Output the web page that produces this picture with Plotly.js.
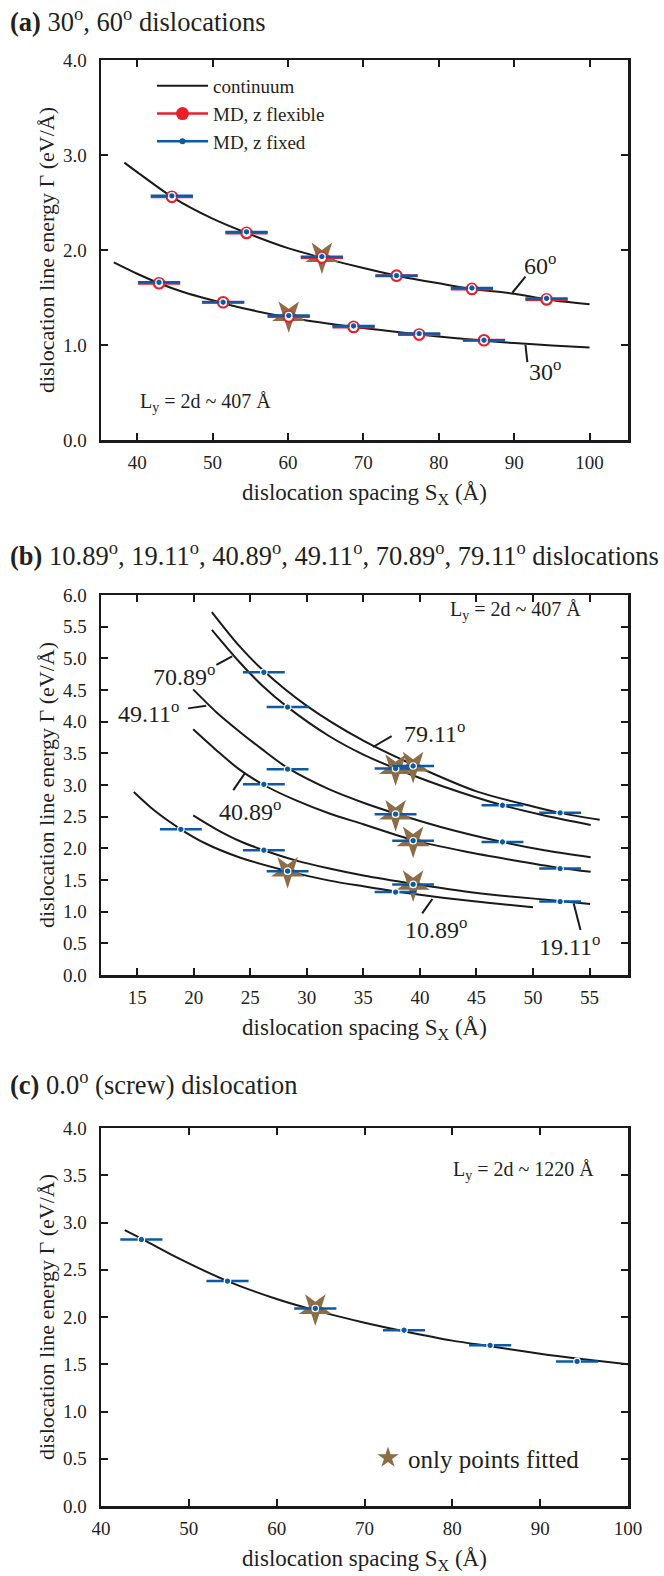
<!DOCTYPE html>
<html>
<head>
<meta charset="utf-8">
<script src="https://cdn.plot.ly/plotly-3.0.1.min.js"></script>
<style>html,body{margin:0;padding:0;background:#fff;}#plot{width:664px;height:1576px;}</style>
</head>
<body>
<div id="plot"></div>
<script>
// ---------- Panel (a): 30°, 60° dislocations ----------
const a60_x = [44.6, 54.5, 64.5, 74.4, 84.4, 94.3];
const a60_fixed = [2.57, 2.19, 1.93, 1.73, 1.60, 1.49];
const a60_flex = [2.56, 2.18, 1.92, 1.73, 1.59, 1.48];
const a60_err = [2.8, 2.8, 2.8, 2.8, 2.8, 2.8];
const a30_x = [42.9, 51.4, 60.1, 68.7, 77.4, 86.0];
const a30_fixed = [1.66, 1.45, 1.31, 1.20, 1.12, 1.05];
const a30_flex = [1.65, 1.45, 1.30, 1.19, 1.11, 1.05];
const a30_err = [2.8, 2.8, 2.8, 2.8, 2.8, 2.8];
const a_star_x = [64.5, 60.1];
const a_star_y = [1.93, 1.31];
const a60_curve_x = [38.3, 40, 44.6, 50, 54.5, 60, 64.5, 70, 74.4, 80, 84.4, 90, 94.3, 100];
const a60_curve_y = [2.92, 2.82, 2.56, 2.33, 2.18, 2.02, 1.92, 1.81, 1.73, 1.65, 1.59, 1.54, 1.48, 1.43];
const a30_curve_x = [36.9, 40, 42.9, 46, 51.4, 55, 60.1, 65, 68.7, 72, 77.4, 82, 86, 90, 95, 100];
const a30_curve_y = [1.87, 1.75, 1.65, 1.56, 1.44, 1.37, 1.29, 1.23, 1.19, 1.16, 1.11, 1.075, 1.045, 1.02, 0.995, 0.975];
const a_xticks = [40, 50, 60, 70, 80, 90, 100];
const a_yticks = [0, 1, 2, 3, 4];

// ---------- Panel (b): mixed dislocations ----------
const b10_x = [18.86, 28.3, 37.85];
const b10_y = [2.30, 1.64, 1.31];
const b19_x = [26.2, 39.4, 52.4];
const b19_y = [1.97, 1.43, 1.16];
const b40_x = [26.2, 39.4, 52.4];
const b40_y = [3.01, 2.12, 1.68];
const b49_x = [28.3, 37.85, 47.3];
const b49_y = [3.25, 2.54, 2.10];
const b70_x = [28.3, 37.85, 47.3];
const b70_y = [4.23, 3.26, 2.68];
const b79_x = [26.2, 39.4, 52.4];
const b79_y = [4.78, 3.30, 2.56];
const b_err = [1.85, 1.85, 1.85];
const b_star_x = [28.3, 39.4, 37.85, 39.4, 37.85, 39.4];
const b_star_y = [1.64, 1.43, 2.54, 2.12, 3.26, 3.30];
const b10_curve_x = [14.7, 16.5, 18.86, 21, 24, 28.3, 32, 35, 37.85, 42, 46, 50];
const b10_curve_y = [2.89, 2.60, 2.30, 2.08, 1.86, 1.64, 1.49, 1.40, 1.32, 1.22, 1.14, 1.07];
const b19_curve_x = [19.95, 22, 24, 26.2, 29, 32, 35, 39.4, 44, 48, 52.4, 55.05];
const b19_curve_y = [2.52, 2.30, 2.12, 1.97, 1.81, 1.68, 1.57, 1.44, 1.32, 1.24, 1.17, 1.12];
const b40_curve_x = [19.95, 22, 24, 26.2, 29, 32, 35, 39.4, 44, 48, 52.4, 55.1];
const b40_curve_y = [3.88, 3.55, 3.25, 3.00, 2.76, 2.55, 2.38, 2.13, 1.95, 1.82, 1.69, 1.63];
const b49_curve_x = [19.95, 22, 24, 26, 28.3, 32, 35, 37.85, 42, 47.3, 51, 55.1];
const b49_curve_y = [4.51, 4.15, 3.85, 3.57, 3.27, 2.93, 2.72, 2.55, 2.33, 2.10, 1.97, 1.86];
const b70_curve_x = [21.6, 24, 26, 28.3, 32, 35, 37.85, 42, 47.3, 51, 55.1];
const b70_curve_y = [5.45, 4.95, 4.58, 4.23, 3.77, 3.48, 3.26, 2.98, 2.68, 2.52, 2.37];
const b79_curve_x = [21.6, 24, 26.2, 30, 35, 39.4, 45, 50, 52.4, 55.9];
const b79_curve_y = [5.73, 5.20, 4.80, 4.25, 3.70, 3.32, 2.90, 2.66, 2.56, 2.45];
const b_xticks = [15, 20, 25, 30, 35, 40, 45, 50, 55];
const b_yticks = [0, 0.5, 1, 1.5, 2, 2.5, 3, 3.5, 4, 4.5, 5, 5.5, 6];

// ---------- Panel (c): screw dislocation ----------
const c_x = [44.6, 54.4, 64.4, 74.5, 84.3, 94.2];
const c_y = [2.82, 2.38, 2.09, 1.86, 1.70, 1.53];
const c_err = [2.4, 2.4, 2.4, 2.4, 2.4, 2.4];
const c_star_x = [64.4];
const c_star_y = [2.09];
const c_curve_x = [42.7, 44.6, 48, 54.4, 60, 64.4, 70, 74.5, 80, 84.3, 90, 94.2, 100];
const c_curve_y = [2.92, 2.83, 2.66, 2.38, 2.19, 2.07, 1.94, 1.85, 1.75, 1.69, 1.61, 1.56, 1.50];
const c_xticks = [40, 50, 60, 70, 80, 90, 100];
const c_yticks = [0, 0.5, 1, 1.5, 2, 2.5, 3, 3.5, 4];

// ---------- styling ----------
const FONT = 'Liberation Serif, Times New Roman, serif';
const TXT = '#231f20';
const BLUE = '#0b5aa8';
const RED = '#e8202a';
const BROWN = '#8c6d46';
const W = 664, H = 1576;

function curve(x, y, xa, ya) {
  return {x: x, y: y, xaxis: xa, yaxis: ya, mode: 'lines', type: 'scatter',
    line: {color: '#1a1a1a', width: 2, shape: 'spline', smoothing: 0.8},
    showlegend: false, hoverinfo: 'skip'};
}
function stars(x, y, xa, ya) {
  return {x: x, y: y, xaxis: xa, yaxis: ya, mode: 'markers', type: 'scatter',
    marker: {symbol: 'star', angle: 180, size: 25, color: BROWN, line: {width: 0}},
    showlegend: false, hoverinfo: 'skip'};
}
function fixedPts(x, y, err, xa, ya) {
  return {x: x, y: y, xaxis: xa, yaxis: ya, mode: 'markers', type: 'scatter',
    error_x: {type: 'data', array: err, color: BLUE, thickness: 2.5, width: 0},
    marker: {symbol: 'circle', size: 6.5, color: BLUE, line: {color: '#ffffff', width: 1.2}},
    showlegend: false, hoverinfo: 'skip'};
}
function flexPts(x, y, err, xa, ya) {
  return {x: x, y: y, xaxis: xa, yaxis: ya, mode: 'markers', type: 'scatter',
    error_x: {type: 'data', array: err, color: RED, thickness: 3, width: 0},
    marker: {symbol: 'circle', size: 10.5, color: '#ffffff', line: {color: RED, width: 2.2}},
    showlegend: false, hoverinfo: 'skip'};
}

const traces = [
  curve(a60_curve_x, a60_curve_y, 'x', 'y'),
  curve(a30_curve_x, a30_curve_y, 'x', 'y'),
  stars(a_star_x, a_star_y, 'x', 'y'),
  flexPts(a60_x, a60_flex, a60_err, 'x', 'y'),
  flexPts(a30_x, a30_flex, a30_err, 'x', 'y'),
  fixedPts(a60_x, a60_fixed, a60_err, 'x', 'y'),
  fixedPts(a30_x, a30_fixed, a30_err, 'x', 'y'),

  curve(b10_curve_x, b10_curve_y, 'x2', 'y2'),
  curve(b19_curve_x, b19_curve_y, 'x2', 'y2'),
  curve(b40_curve_x, b40_curve_y, 'x2', 'y2'),
  curve(b49_curve_x, b49_curve_y, 'x2', 'y2'),
  curve(b70_curve_x, b70_curve_y, 'x2', 'y2'),
  curve(b79_curve_x, b79_curve_y, 'x2', 'y2'),
  stars(b_star_x, b_star_y, 'x2', 'y2'),
  fixedPts(b10_x, b10_y, b_err, 'x2', 'y2'),
  fixedPts(b19_x, b19_y, b_err, 'x2', 'y2'),
  fixedPts(b40_x, b40_y, b_err, 'x2', 'y2'),
  fixedPts(b49_x, b49_y, b_err, 'x2', 'y2'),
  fixedPts(b70_x, b70_y, b_err, 'x2', 'y2'),
  fixedPts(b79_x, b79_y, b_err, 'x2', 'y2'),

  curve(c_curve_x, c_curve_y, 'x3', 'y3'),
  stars(c_star_x, c_star_y, 'x3', 'y3'),
  fixedPts(c_x, c_y, c_err, 'x3', 'y3'),

  // legend entries (panel a)
  {x: [null], y: [null], xaxis: 'x', yaxis: 'y', type: 'scatter', mode: 'lines', name: 'continuum',
    line: {color: '#1a1a1a', width: 2}, legend: 'legend'},
  {x: [null], y: [null], xaxis: 'x', yaxis: 'y', type: 'scatter', mode: 'lines+markers', name: 'MD, z flexible',
    line: {color: RED, width: 2.5}, marker: {color: RED, size: 13}, legend: 'legend'},
  {x: [null], y: [null], xaxis: 'x', yaxis: 'y', type: 'scatter', mode: 'lines+markers', name: 'MD, z fixed',
    line: {color: BLUE, width: 2.5}, marker: {color: BLUE, size: 6}, legend: 'legend'},
  // legend entry (panel c)
  {x: [null], y: [null], xaxis: 'x3', yaxis: 'y3', type: 'scatter', mode: 'markers', name: 'only points fitted',
    marker: {symbol: 'star', size: 24, color: BROWN}, legend: 'legend2'}
];

const XD = [101 / W, 628 / W];
function ydom(top, bottom) { return [1 - bottom / H, 1 - top / H]; }
const xTitle = 'dislocation spacing S<sub>X</sub> (Å)';
const yTitle = 'dislocation line energy Γ (eV/Å)';

function axis(extra) {
  return Object.assign({
    showline: true, linecolor: '#1a1a1a', linewidth: 2.5, mirror: 'ticks',
    ticks: 'inside', ticklen: 7, tickwidth: 2, tickcolor: '#1a1a1a',
    showgrid: false, zeroline: false, fixedrange: true,
    tickfont: {family: FONT, size: 19, color: TXT}
  }, extra);
}
function xax(range, ticks, anchor) {
  return axis({domain: XD, range: range, tickmode: 'array', tickvals: ticks, anchor: anchor,
    ticklabelstandoff: 4,
    title: {text: xTitle, font: {family: FONT, size: 23, color: TXT}, standoff: 12}});
}
function yax(range, ticks, anchor, dom) {
  return axis({domain: dom, range: range, tickmode: 'array', tickvals: ticks, tickformat: '.1f', anchor: anchor,
    ticklabelstandoff: 8,
    title: {text: yTitle, font: {family: FONT, size: 22, color: TXT}, standoff: 3}});
}

function lab(text, x, y, xr, yr, size, xanchor) {
  return {text: text, x: x, y: y, xref: xr, yref: yr, showarrow: false,
    xanchor: xanchor || 'center', yanchor: 'middle',
    font: {family: FONT, size: size, color: TXT}};
}
function leader(x0, y0, x1, y1, xr, yr) {
  return {type: 'line', xref: xr, yref: yr, x0: x0, y0: y0, x1: x1, y1: y1,
    line: {color: '#1a1a1a', width: 2}};
}

const annotations = [
  lab('<b>(a)</b> 30<sup>o</sup>, 60<sup>o</sup> dislocations', 8 / W, 1 - 20 / H, 'paper', 'paper', 26.5, 'left'),
  lab('<b>(b)</b> 10.89<sup>o</sup>, 19.11<sup>o</sup>, 40.89<sup>o</sup>, 49.11<sup>o</sup>, 70.89<sup>o</sup>, 79.11<sup>o</sup> dislocations', 8 / W, 1 - 554 / H, 'paper', 'paper', 26.5, 'left'),
  lab('<b>(c)</b> 0.0<sup>o</sup> (screw) dislocation', 8 / W, 1 - 1083 / H, 'paper', 'paper', 26.5, 'left'),

  lab('60<sup>o</sup>', 93.4, 1.853, 'x', 'y', 24),
  lab('30<sup>o</sup>', 94.1, 0.737, 'x', 'y', 24),
  lab('L<sub>y</sub> = 2d ~ 407 Å', 40.1, 0.39, 'x', 'y', 20, 'left'),

  lab('70.89<sup>o</sup>', 19.1, 4.74, 'x2', 'y2', 24),
  lab('49.11<sup>o</sup>', 16.03, 4.16, 'x2', 'y2', 24),
  lab('40.89<sup>o</sup>', 24.96, 2.605, 'x2', 'y2', 24),
  lab('79.11<sup>o</sup>', 41.3, 3.84, 'x2', 'y2', 24),
  lab('10.89<sup>o</sup>', 41.4, 0.737, 'x2', 'y2', 24),
  lab('19.11<sup>o</sup>', 53.3, 0.474, 'x2', 'y2', 24),
  lab('L<sub>y</sub> = 2d ~ 407 Å', 42.5, 5.75, 'x2', 'y2', 20, 'left'),

  lab('L<sub>y</sub> = 2d ~ 1220 Å', 79.85, 3.55, 'x3', 'y3', 20, 'left')
];

const shapes = [
  leader(91.5, 1.72, 89.76, 1.55, 'x', 'y'),
  leader(91.5, 1.00, 91.75, 0.82, 'x', 'y'),
  leader(22.0, 4.895, 23.4, 5.03, 'x2', 'y2'),
  leader(19.5, 4.21, 21.1, 4.25, 'x2', 'y2'),
  leader(23.5, 2.92, 24.5, 3.18, 'x2', 'y2'),
  leader(37.5, 3.77, 35.85, 3.60, 'x2', 'y2'),
  leader(40.2, 0.974, 41.1, 1.20, 'x2', 'y2'),
  leader(54.2, 0.71, 53.6, 1.13, 'x2', 'y2')
];

const layout = {
  width: W, height: H,
  margin: {l: 0, r: 0, t: 0, b: 0},
  paper_bgcolor: '#ffffff', plot_bgcolor: '#ffffff',
  font: {family: FONT, color: TXT},
  xaxis: xax([35.2, 105.1], a_xticks, 'y'),
  yaxis: yax([0, 4], a_yticks, 'x', ydom(60, 440)),
  xaxis2: xax([11.8, 58.4], b_xticks, 'y2'),
  yaxis2: yax([0, 6], b_yticks, 'x2', ydom(595, 975)),
  xaxis3: xax([40, 100], c_xticks, 'y3'),
  yaxis3: yax([0, 4], c_yticks, 'x3', ydom(1128, 1506)),
  showlegend: true,
  legend: {x: 152 / W, y: 1 - 67 / H, xanchor: 'left', yanchor: 'top', bgcolor: 'rgba(0,0,0,0)',
    font: {family: FONT, size: 19, color: TXT}, itemwidth: 51, tracegroupgap: 0},
  legend2: {x: 368 / W, y: 1 - 1458 / H, xanchor: 'left', yanchor: 'middle', bgcolor: 'rgba(0,0,0,0)',
    font: {family: FONT, size: 25, color: TXT}},
  annotations: annotations,
  shapes: shapes
};

Plotly.newPlot('plot', traces, layout, {staticPlot: true, displayModeBar: false});
</script>
</body>
</html>
